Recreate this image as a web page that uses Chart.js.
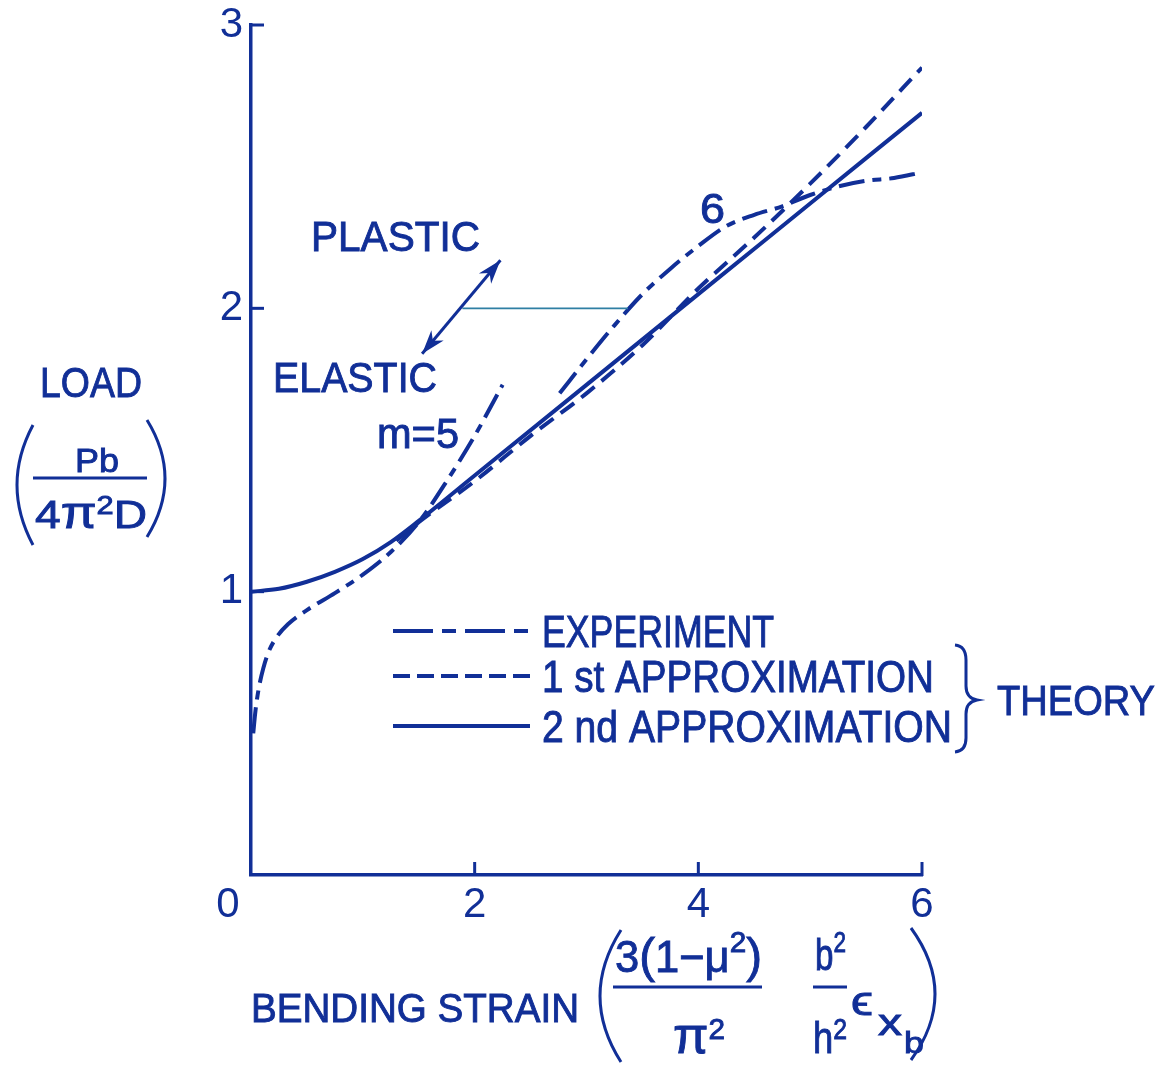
<!DOCTYPE html>
<html>
<head>
<meta charset="utf-8">
<script src="https://cdn.jsdelivr.net/npm/chart.js@4/dist/chart.umd.min.js"></script>
<style>
  html, body { margin: 0; padding: 0; background: #ffffff; }
  canvas { display: block; }
</style>
</head>
<body>
<canvas id="chart" width="1169" height="1065"></canvas>
<script>
// Ink colour and lettering face
const INK = '#112f97';
const LEADER = '#2f7fa3';
const FONT = '"Liberation Sans", Arial, sans-serif';

// Axis ticks (bending strain on x, load ratio on y)
const xTickValues = [2, 4, 6];
const yTickValues = [1, 2, 3];

// Theory, 2nd approximation
const secondApproxX = [0, 0.25, 0.5, 0.75, 1.0, 1.25, 1.5, 2, 3, 4, 5, 6];
const secondApproxY = [1.0, 1.01, 1.035, 1.07, 1.115, 1.175, 1.25, 1.41, 1.73, 2.05, 2.37, 2.69];

// Theory, 1st approximation
const firstApproxX = [1.3, 1.5, 2, 2.5, 3, 3.5, 4, 4.5, 5, 5.5, 6];
const firstApproxY = [1.18, 1.245, 1.39, 1.55, 1.70, 1.87, 2.07, 2.25, 2.44, 2.64, 2.85];

// Experiment, m = 5 branch
const expM5X = [0.02, 0.04, 0.07, 0.11, 0.16, 0.23, 0.33, 0.5, 0.75, 1.0, 1.25, 1.5, 1.75, 2.0, 2.25];
const expM5Y = [0.50, 0.58, 0.66, 0.73, 0.79, 0.84, 0.885, 0.935, 0.995, 1.06, 1.14, 1.245, 1.39, 1.55, 1.73];

// Experiment, m = 6 branch
const expM6X = [2.76, 3.0, 3.25, 3.5, 3.75, 4.0, 4.25, 4.5, 4.75, 5.0, 5.25, 5.5, 5.75, 6.0];
const expM6Y = [1.70, 1.82, 1.94, 2.05, 2.14, 2.22, 2.29, 2.33, 2.36, 2.40, 2.43, 2.45, 2.46, 2.48];

// Legend entries
const legendLabels = ['EXPERIMENT', '1 st APPROXIMATION', '2 nd APPROXIMATION'];

// Elastic/plastic arrow and its leader line, in data units
const arrowFrom = [1.53, 1.84];
const arrowTo = [2.23, 2.17];
const leaderFrom = [1.89, 2.0];
const leaderTo = [3.37, 2.0];

const EXP_DASH = [26, 8, 9, 8];
const FIRST_DASH = [17, 9];

const pts = (xs, ys) => xs.map((x, i) => ({ x, y: ys[i] }));

function curve(label, xs, ys, dash) {
  return {
    label,
    data: pts(xs, ys),
    borderColor: INK,
    borderWidth: 4,
    borderDash: dash,
    cubicInterpolationMode: 'monotone',
    pointRadius: 0,
    fill: false
  };
}

// Draws a row of text pieces, squeezed horizontally to the given width
function runs(ctx, items, left, base, width) {
  const widths = items.map(([t, s]) => { ctx.font = s + 'px ' + FONT; return ctx.measureText(t).width; });
  const natural = widths.reduce((a, b) => a + b, 0);
  const sx = width / natural;
  let cx = left;
  ctx.textAlign = 'left';
  ctx.textBaseline = 'alphabetic';
  items.forEach(([t, s, dy = 0], i) => {
    ctx.save();
    ctx.translate(cx, base + dy);
    ctx.scale(sx, 1);
    ctx.font = s + 'px ' + FONT;
    ctx.lineWidth = 0.9;
    ctx.strokeStyle = INK;
    ctx.fillText(t, 0, 0);
    ctx.strokeText(t, 0, 0);
    ctx.restore();
    cx += widths[i] * sx;
  });
}

function seg(ctx, x1, y1, x2, y2) {
  ctx.beginPath(); ctx.moveTo(x1, y1); ctx.lineTo(x2, y2); ctx.stroke();
}

function head(ctx, tipX, tipY, fromX, fromY) {
  const a = Math.atan2(tipY - fromY, tipX - fromX);
  const len = 24, half = 8;
  ctx.beginPath();
  ctx.moveTo(tipX, tipY);
  ctx.lineTo(tipX - len * Math.cos(a) + half * Math.sin(a), tipY - len * Math.sin(a) - half * Math.cos(a));
  ctx.lineTo(tipX - len * 0.7 * Math.cos(a), tipY - len * 0.7 * Math.sin(a));
  ctx.lineTo(tipX - len * Math.cos(a) - half * Math.sin(a), tipY - len * Math.sin(a) + half * Math.cos(a));
  ctx.closePath();
  ctx.fill();
}

function paren(ctx, x1, y1, cx, x2, y2) {
  ctx.beginPath();
  ctx.moveTo(x1, y1);
  ctx.quadraticCurveTo(cx, (y1 + y2) / 2, x2, y2);
  ctx.stroke();
}

const overlay = {
  id: 'overlay',
  afterDraw(chart) {
    const { ctx, scales: { x, y } } = chart;
    const P = (v) => [x.getPixelForValue(v[0]), y.getPixelForValue(v[1])];
    const x0 = x.getPixelForValue(0);
    const y0 = y.getPixelForValue(0);
    ctx.save();
    ctx.strokeStyle = INK;
    ctx.fillStyle = INK;
    ctx.lineWidth = 3;

    // inward tick marks
    xTickValues.forEach(v => { const px = x.getPixelForValue(v); seg(ctx, px, y0 + 1, px, y0 - 13); });
    yTickValues.forEach(v => { const py = y.getPixelForValue(v); seg(ctx, x0 - 1, py, x0 + 13, py); });

    // origin label
    ctx.font = '42px ' + FONT;
    ctx.textAlign = 'center';
    ctx.textBaseline = 'middle';
    ctx.fillText('0', x0 - 23, y0 + 30);

    // leader line from the arrow to the experimental curve
    const l1 = P(leaderFrom), l2 = P(leaderTo);
    ctx.save();
    ctx.strokeStyle = LEADER;
    ctx.lineWidth = 1.6;
    seg(ctx, l1[0], l1[1], l2[0], l2[1]);
    ctx.restore();

    // double-headed arrow between the elastic and plastic regions
    const a1 = P(arrowFrom), a2 = P(arrowTo);
    ctx.lineWidth = 3;
    seg(ctx, a1[0], a1[1], a2[0], a2[1]);
    head(ctx, a2[0], a2[1], a1[0], a1[1]);
    head(ctx, a1[0], a1[1], a2[0], a2[1]);

    // region and mode labels
    runs(ctx, [['PLASTIC', 42]], 311, 251, 169);
    runs(ctx, [['ELASTIC', 42]], 273, 392, 164);
    runs(ctx, [['m=5', 42]], 377, 448, 82);
    runs(ctx, [['6', 42]], 700, 223, 25);

    // legend
    const rows = [631, 676, 726];
    const styles = [[40, 9, 14, 9], [17, 7], []];
    rows.forEach((ry, i) => {
      ctx.save();
      ctx.lineWidth = 3.8;
      ctx.setLineDash(styles[i]);
      seg(ctx, 393, ry, 530, ry);
      ctx.restore();
    });
    runs(ctx, [[legendLabels[0], 44]], 542, 647, 232);
    runs(ctx, [[legendLabels[1], 44]], 542, 692, 392);
    runs(ctx, [[legendLabels[2], 44]], 542, 742, 410);

    // brace grouping the two theories
    ctx.lineWidth = 3;
    ctx.beginPath();
    ctx.moveTo(955, 645);
    ctx.quadraticCurveTo(966, 646, 966, 660);
    ctx.lineTo(966, 686);
    ctx.quadraticCurveTo(966, 698, 977, 700);
    ctx.quadraticCurveTo(966, 702, 966, 714);
    ctx.lineTo(966, 738);
    ctx.quadraticCurveTo(966, 751, 955, 752);
    ctx.stroke();
    runs(ctx, [['THEORY', 42]], 997, 715, 158);

    // y-axis title
    runs(ctx, [['LOAD', 42]], 40, 397, 102);
    runs(ctx, [['Pb', 34]], 75, 472, 44);
    runs(ctx, [['4', 39], ['\u03c0', 44], ['2', 26, -14], ['D', 39]], 35, 528, 112);
    ctx.lineWidth = 3;
    seg(ctx, 33, 478, 147, 478);
    paren(ctx, 33, 425, 1, 33, 545);
    paren(ctx, 147, 420, 183, 147, 537);

    // x-axis title
    runs(ctx, [['BENDING STRAIN', 40]], 251, 1022, 328);
    ctx.lineWidth = 3;
    paren(ctx, 621, 930, 579, 621, 1062);
    paren(ctx, 911, 928, 959, 911, 1060);
    runs(ctx, [['3', 44], ['(', 48], ['1', 44], ['\u2212', 44], ['\u03bc', 44], ['2', 30, -20], [')', 48]], 615, 972, 147);
    ctx.lineWidth = 3;
    seg(ctx, 613, 987, 762, 987);
    runs(ctx, [['\u03c0', 52], ['2', 30, -14]], 673, 1053, 52);
    runs(ctx, [['b', 44], ['2', 30, -18]], 815, 970, 31);
    ctx.lineWidth = 3;
    seg(ctx, 813, 987, 847, 987);
    runs(ctx, [['h', 44], ['2', 30, -14]], 813, 1053, 34);
    runs(ctx, [['\u03f5', 40]], 851, 1015, 22);
    runs(ctx, [['x', 36]], 878, 1035, 24);
    runs(ctx, [['b', 30]], 904, 1053, 20);

    ctx.restore();
  }
};

new Chart(document.getElementById('chart'), {
  type: 'line',
  data: {
    datasets: [
      curve('2 nd APPROXIMATION', secondApproxX, secondApproxY, []),
      curve('1 st APPROXIMATION', firstApproxX, firstApproxY, FIRST_DASH),
      curve('EXPERIMENT (m=5)', expM5X, expM5Y, EXP_DASH),
      curve('EXPERIMENT (m=6)', expM6X, expM6Y, EXP_DASH)
    ]
  },
  options: {
    responsive: false,
    animation: false,
    devicePixelRatio: 1,
    layout: { padding: { left: 0, right: 247, top: 25, bottom: 0 } },
    plugins: { legend: { display: false }, tooltip: { enabled: false } },
    scales: {
      x: {
        type: 'linear',
        min: 0,
        max: 6,
        afterFit: s => { s.height = 190; s.paddingLeft = 0; s.paddingRight = 0; },
        afterBuildTicks: s => { s.ticks = xTickValues.map(v => ({ value: v })); },
        ticks: { color: INK, font: { family: FONT, size: 42, lineHeight: 1 }, padding: 9, maxRotation: 0, autoSkip: false },
        grid: { display: false, drawTicks: false },
        border: { display: true, color: INK, width: 3.5 }
      },
      y: {
        type: 'linear',
        min: 0,
        max: 3,
        afterFit: s => { s.width = 251; s.paddingTop = 0; s.paddingBottom = 0; },
        afterBuildTicks: s => { s.ticks = yTickValues.map(v => ({ value: v })); },
        ticks: { color: INK, font: { family: FONT, size: 42, lineHeight: 1 }, padding: 8, autoSkip: false },
        grid: { display: false, drawTicks: false },
        border: { display: true, color: INK, width: 3.5 }
      }
    }
  },
  plugins: [overlay]
});
</script>
</body>
</html>
